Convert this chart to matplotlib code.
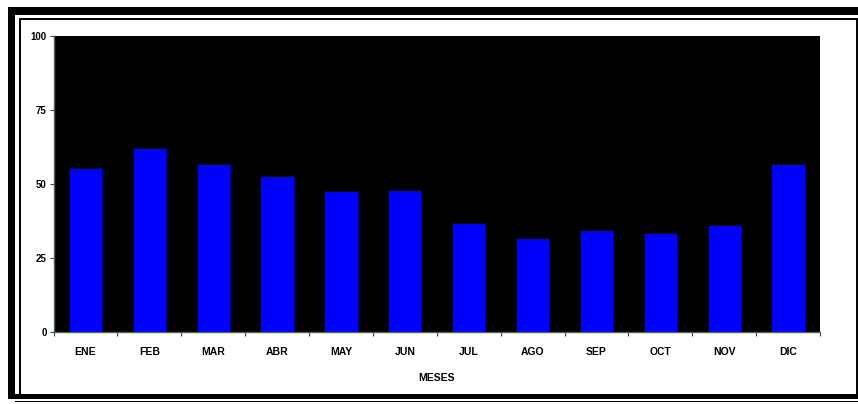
import matplotlib
matplotlib.use("Agg")
import matplotlib.pyplot as plt
from matplotlib.patches import Rectangle
import numpy as np

plt.rcParams['font.family'] = ['Liberation Sans', 'DejaVu Sans']

# monthly values
meses = ['ENE', 'FEB', 'MAR', 'ABR', 'MAY', 'JUN', 'JUL', 'AGO', 'SEP', 'OCT', 'NOV', 'DIC']
valores = [55.3, 62.0, 56.8, 52.8, 47.5, 48.1, 36.8, 31.8, 34.5, 33.4, 36.1, 56.9]
yticks = [0, 25, 50, 75, 100]

W, H = 858, 404
fig = plt.figure(figsize=(W / 100, H / 100), dpi=100)
fig.patch.set_facecolor('white')


def px_rect(x0, y0, x1, y1, **kw):
    # rectangle given in pixel coords from the top-left corner
    r = Rectangle((x0 / W, 1 - y1 / H), (x1 - x0) / W, (y1 - y0) / H,
                  transform=fig.transFigure, **kw)
    fig.patches.append(r)


# frame around the chart
px_rect(8, 7, 858, 15, color='black', lw=0)
px_rect(8, 7, 15, 399, color='black', lw=0)
px_rect(8, 394, 858, 399, color='black', lw=0)
px_rect(20, 19, 857, 395, fill=False, edgecolor='black', lw=1.4)
px_rect(15, 400.5, 858, 402, color='black', lw=0)

left, right, top, bottom = 53.5, 820, 36, 332
ax = fig.add_axes([left / W, 1 - bottom / H, (right - left) / W, (bottom - top) / H])
ax.set_facecolor('black')

x = np.arange(len(meses))
ax.bar(x, valores, width=0.52, color='#0000ff', edgecolor='#000066', linewidth=0.6)

ax.set_xlim(-0.5, len(meses) - 0.5)
ax.set_ylim(0, 100)
ax.set_yticks(yticks)
ax.set_yticklabels([str(v) for v in yticks], fontsize=7, fontweight='bold')
ax.set_xticks(x)
ax.set_xticklabels(meses, fontsize=7.5, fontweight='bold')
ax.set_xticks(np.arange(-0.5, len(meses)), minor=True)
ax.tick_params(axis='x', which='major', length=0, pad=11)
ax.tick_params(axis='x', which='minor', length=3, width=0.8, color='#444444')
ax.tick_params(axis='y', length=3, width=0.8, color='#444444', pad=2)
ax.set_xlabel('MESES', fontsize=7.5, fontweight='bold', labelpad=11)

for side in ['top', 'right']:
    ax.spines[side].set_visible(False)
for side in ['left', 'bottom']:
    ax.spines[side].set_color('#556655')
    ax.spines[side].set_linewidth(1.0)

fig.savefig('out.png', dpi=100)
